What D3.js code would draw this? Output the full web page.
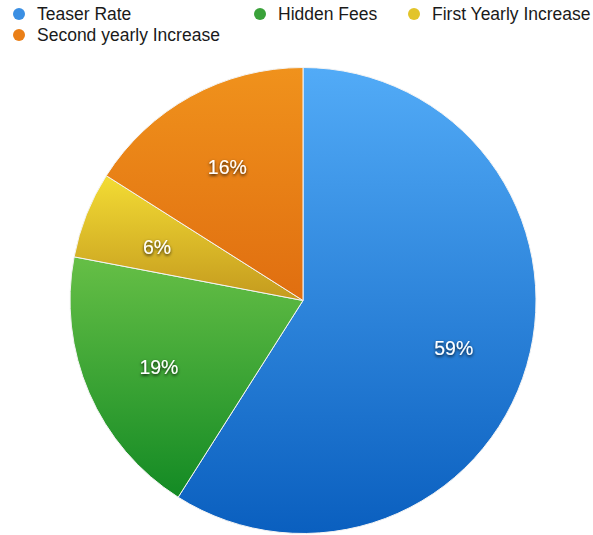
<!DOCTYPE html>
<html>
<head>
<meta charset="utf-8">
<script src="https://cdn.jsdelivr.net/npm/d3@7"></script>
<style>
  html, body { margin: 0; padding: 0; background: #fff; }
  svg { display: block; font-family: "Liberation Sans", Arial, Helvetica, sans-serif; }
</style>
</head>
<body>
<svg id="chart" width="593" height="535"></svg>
<script>
// Share of payment increases by cause
const categories = ["Teaser Rate", "Hidden Fees", "First Yearly Increase", "Second yearly Increase"];
const values = [59, 19, 6, 16];
const sliceTop = ["#52abf7", "#66bf46", "#f3dc34", "#f0921c"];
const sliceBottom = ["#0a5fbf", "#138a24", "#c49a1e", "#e06e10"];
const legendDot = ["#3b8fe3", "#3aa23a", "#e2c42a", "#ea7f17"];

const svg = d3.select("#chart");
const cx = 303, cy = 300.5, R = 233;

const defs = svg.append("defs");
categories.forEach((c, i) => {
  const g = defs.append("linearGradient")
    .attr("id", "grad" + i)
    .attr("x1", 0).attr("y1", 0).attr("x2", 0).attr("y2", 1);
  g.append("stop").attr("offset", "0%").attr("stop-color", sliceTop[i]);
  g.append("stop").attr("offset", "100%").attr("stop-color", sliceBottom[i]);
});
const shadow = defs.append("filter").attr("id", "txtShadow")
  .attr("x", "-30%").attr("y", "-30%").attr("width", "160%").attr("height", "160%");
shadow.append("feDropShadow")
  .attr("dx", 0).attr("dy", 1.5).attr("stdDeviation", 1.6)
  .attr("flood-color", "#000").attr("flood-opacity", 0.85);

const pie = d3.pie().sort(null).value(d => d)(values);
const arc = d3.arc().innerRadius(0).outerRadius(R);
const labelArc = d3.arc().innerRadius(157).outerRadius(157);

const g = svg.append("g").attr("transform", `translate(${cx},${cy})`);

g.selectAll("path.slice")
  .data(pie)
  .join("path")
  .attr("class", "slice")
  .attr("d", arc)
  .attr("fill", (d, i) => `url(#grad${i})`)
  .attr("stroke", "#f4f4f4")
  .attr("stroke-width", 1);

g.selectAll("text.pct")
  .data(pie)
  .join("text")
  .attr("class", "pct")
  .attr("transform", d => {
    const [x, y] = labelArc.centroid(d);
    return `translate(${x},${y + 4})`;
  })
  .attr("text-anchor", "middle")
  .attr("dy", "0.36em")
  .attr("fill", "#fff")
  .attr("font-size", 19.5)
  .attr("filter", "url(#txtShadow)")
  .text(d => d.data + "%");

// Legend
const legendPos = [[19, 14], [260, 14], [414, 14], [19, 35]];
const legend = svg.append("g");
categories.forEach((c, i) => {
  const [x, y] = legendPos[i];
  legend.append("circle").attr("cx", x).attr("cy", y).attr("r", 6).attr("fill", legendDot[i]);
  legend.append("text")
    .attr("x", x + 18).attr("y", y)
    .attr("dy", "0.35em")
    .attr("font-size", 17.5)
    .attr("fill", "#1a1a1a")
    .text(c);
});
</script>
</body>
</html>
